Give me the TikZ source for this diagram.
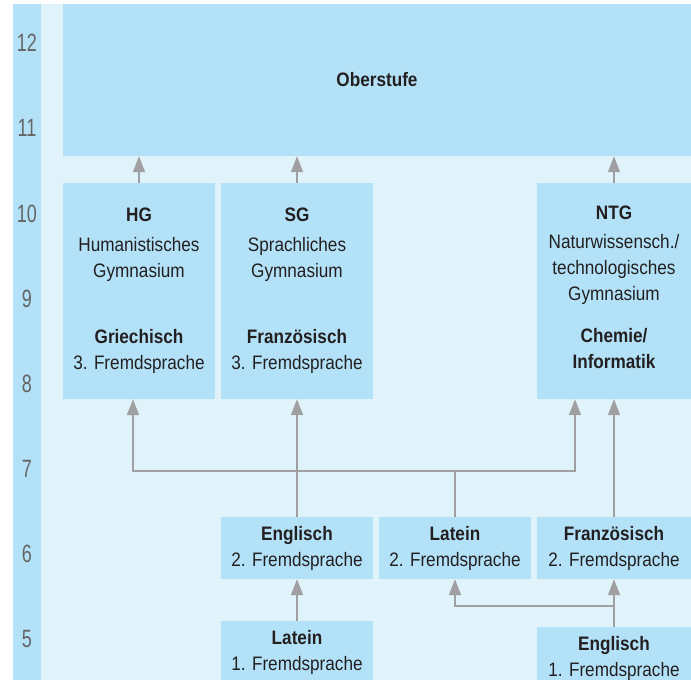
\documentclass[tikz,border=0pt]{standalone}
\usepackage{fontspec}
\setmainfont{Liberation Sans}[FakeStretch=0.88]
\newfontfamily\yearfont{Liberation Sans}[FakeStretch=0.72]
\usepackage{tikz}
\usepackage{xcolor}
\usetikzlibrary{arrows.meta,calc,positioning}
\definecolor{BoxBlue}{HTML}{B3E2F8}
\definecolor{PaleBlue}{HTML}{E0F3FB}
\definecolor{LineGray}{HTML}{A0A0A3}
\definecolor{TextDark}{HTML}{231F20}
\definecolor{YearGray}{HTML}{656565}
\tikzset{
  schoolbox/.style={fill=BoxBlue, draw=none, inner sep=0pt, align=center, text=TextDark,
    font=\fontsize{19.5}{26}\selectfont},
  widebox/.style={schoolbox, minimum width=152pt, minimum height=216pt},
  langbox/.style={schoolbox, minimum width=152pt, minimum height=62pt},
  yearlabel/.style={text=YearGray, font=\yearfont\fontsize{25}{25}\selectfont, inner sep=0pt},
  schoolarrow/.style={-{Triangle[length=16pt,width=12pt]}, line width=1.6pt, draw=LineGray},
  schoolline/.style={line width=1.6pt, draw=LineGray}
}

\begin{document}
\begin{tikzpicture}[x=1pt,y=-1pt]
  \useasboundingbox (0,0) rectangle (691,680);
  \clip (0,0) rectangle (691,680);
  \fill[white] (0,0) rectangle (691,680);
  \fill[BoxBlue] (13,4) rectangle (41,680);
  \fill[PaleBlue] (41,4) rectangle (691,680);
  % year numbers
  \foreach \n [count=\i from 0] in {12,11,10,9,8,7,6,5}
    \node[yearlabel] (year\n) at (27,{43+85.2*\i}) {\n};
  % boxes
  \node[schoolbox, minimum width=628pt, minimum height=152pt] (ober) at (377,80) {\textbf{Oberstufe}};
  \node[widebox] (hg) at (139,291) {\textbf{HG}\\[4pt] Humanistisches\\ Gymnasium\\[40pt] \textbf{Griechisch}\\ 3. Fremdsprache};
  \node[widebox] (sg) at (297,291) {\textbf{SG}\\[4pt] Sprachliches\\ Gymnasium\\[40pt] \textbf{Französisch}\\ 3. Fremdsprache};
  \node[widebox, minimum width=154pt] (ntg) at (614,291) {\textbf{NTG}\\[3pt] Naturwissensch./\\ technologisches\\ Gymnasium\\[16pt] \textbf{Chemie/}\\ \textbf{Informatik}\\[-19pt]\mbox{}};
  \node[langbox] (eng2) at (297,548) {\textbf{Englisch}\\ 2. Fremdsprache};
  \node[langbox] (lat2) at (455,548) {\textbf{Latein}\\ 2. Fremdsprache};
  \node[langbox, minimum width=154pt] (fra2) at (614,548) {\textbf{Französisch}\\ 2. Fremdsprache};
  \node[langbox] (lat1) at (297,652) {\textbf{Latein}\\ 1. Fremdsprache};
  \node[langbox, minimum width=154pt] (eng1) at (614,658) {\textbf{Englisch}\\ 1. Fremdsprache};
  % arrows into Oberstufe
  \draw[schoolarrow] (hg.north) -- (hg.north |- ober.south);
  \draw[schoolarrow] (sg.north) -- (sg.north |- ober.south);
  \draw[schoolarrow] (ntg.north) -- (ntg.north |- ober.south);
  % Latein 2 branches
  \coordinate (latjoint) at (455,471);
  \draw[schoolline] (lat2.north) -- (latjoint);
  \draw[schoolarrow] (latjoint) -| ($(hg.south)+(-6,0)$);
  \draw[schoolarrow] (latjoint) -| ($(ntg.south)+(-39,0)$);
  \draw[schoolarrow] (eng2.north) -- (sg.south);
  \draw[schoolarrow] (fra2.north) -- (ntg.south);
  % first language
  \draw[schoolarrow] (lat1.north) -- (eng2.south);
  \draw[schoolarrow] (eng1.north) -- (fra2.south);
  \coordinate (engjoint) at (614,606);
  \draw[schoolarrow] (engjoint) -| (lat2.south);
\end{tikzpicture}
\end{document}
